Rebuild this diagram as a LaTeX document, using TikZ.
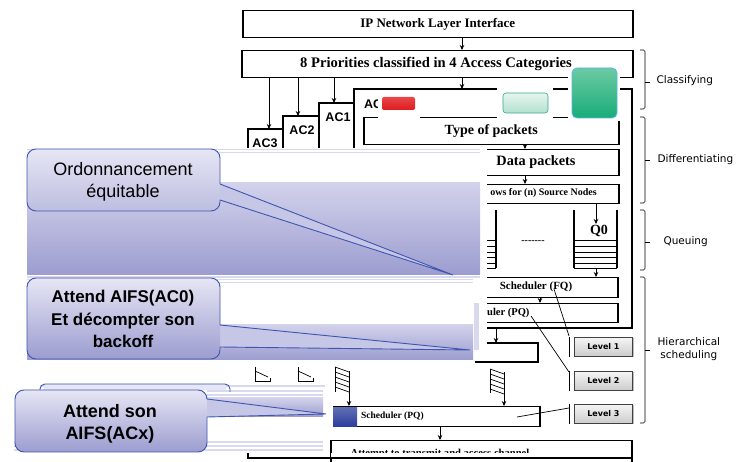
\documentclass[tikz,border=0pt]{standalone}
\usepackage{fontspec}
\setmainfont{Liberation Serif}
\newfontfamily\arialf{Liberation Sans}
\newfontfamily\verdf{DejaVu Sans}
\usetikzlibrary{arrows.meta}
\definecolor{bandlt}{HTML}{D8D8EF}
\definecolor{bandtop}{HTML}{D2D2EC}
\definecolor{bandbot}{HTML}{9C9CD0}
\definecolor{calltop}{HTML}{E6E6F5}
\definecolor{callbot}{HTML}{BDBDE0}
\definecolor{callpt}{HTML}{C6C6E6}
\definecolor{callline}{HTML}{3F56B0}
\definecolor{redbox}{HTML}{E01A1C}
\definecolor{tealtop}{HTML}{E6F5EF}
\definecolor{tealbot}{HTML}{B2E1D0}
\definecolor{tealline}{HTML}{3AA58A}
\definecolor{greentop}{HTML}{6CCBA3}
\definecolor{greenbot}{HTML}{18AC78}
\definecolor{greenline}{HTML}{5AB4E6}
\definecolor{navy}{HTML}{2A3C9C}
\begin{document}
\begin{tikzpicture}[x=1pt,y=-1pt,
  box/.style={draw,line width=1.5pt,inner sep=0pt,anchor=north west},
  ln/.style={line width=1.5pt},
  thn/.style={line width=0.7pt},
  arr/.style={-{Stealth[length=5pt,width=4.5pt]},line width=0.7pt},
  serb/.style={font=\bfseries\fontsize{#1}{#1}\selectfont},
  acl/.style={font=\arialf\bfseries\fontsize{12.5}{12.5}\selectfont},
  lvbox/.style={draw=black!75,line width=0.8pt,top color=gray!8,bottom color=gray!40,
    minimum width=58pt,minimum height=19pt,anchor=north west,inner sep=0pt,
    font=\verdf\bfseries\fontsize{8}{8}\selectfont},
  brc/.style={line width=0.6pt,rounded corners=1.5pt},
  brl/.style={anchor=west,font=\verdf\fontsize{10.5}{13}\selectfont,align=center},
  callln/.style={draw=callline,line width=0.9pt},
  stripe/.style={draw=bandlt,line width=1.2pt}
]
\useasboundingbox (0,0) rectangle (740,462);
\clip (0,0) rectangle (740,462);
\fill[white] (0,0) rectangle (740,462);

% ---- top boxes
\node[box,minimum width=390pt,minimum height=27pt,serb=13] (ip) at (242,10) {IP Network Layer Interface};
\node[box,minimum width=391pt,minimum height=27pt] (prio) at (241,50) {};
\node[serb=14.6,anchor=west,inner sep=0pt] (priot) at (300,63.5) {8 Priorities classified in 4 Access Categories};
\coordinate (ac0t) at (462,89);
\coordinate (ac1t) at (334,103);
\coordinate (ac2t) at (298,116);
\coordinate (ac3t) at (269,129);
\draw[arr] (ip.south -| ac0t) -- (prio.north -| ac0t);
\draw[arr] (prio.south -| ac0t) -- (ac0t);
\draw[arr] (prio.south -| ac1t) -- (ac1t);
\draw[arr] (prio.south -| ac2t) -- (ac2t);
\draw[arr] (prio.south -| ac3t) -- (ac3t);

% ---- AC boxes
\draw[ln] (248,148) -- (248,129) -- (283,129);
\draw[ln] (283,148) -- (283,116) -- (319,116);
\draw[ln] (319,148) -- (319,103) -- (354,103);
\draw[ln] (354,148) -- (354,89) -- (632,89) -- (632,328) -- (470,328);
\node[acl] (lac3) at (265,143) {AC3};
\node[acl] (lac2) at (302,130) {AC2};
\node[acl] (lac1) at (338,117) {AC1};
\node[acl,anchor=west,inner sep=0pt] (lac0) at (364,104) {AC0};

% ---- inside AC0
\node[box,minimum width=255pt,minimum height=27pt,serb=14] (type) at (363,117) {Type of packets};
\node[box,minimum width=156pt,minimum height=26pt] (data) at (462,149) {};
\node[serb=14.3] (datat) at (536,162) {Data packets};
\coordinate (c525) at (525,0);
\draw[arr] (type.south -| c525) -- (data.north -| c525);
\node[box,minimum width=156pt,minimum height=19pt] (src) at (462,184) {};
\node[serb=10,anchor=east,inner sep=0pt] (srct) at (597,193.5) {ows for (n) Source Nodes};
\draw[arr] (data.south -| c525) -- (src.north -| c525);

% queues
\draw[ln] (574,210) -- (574,268);
\draw[ln] (617,210) -- (617,268);
\foreach \yy in {240,246,252,257,263,268} \draw[thn] (574,\yy) -- (617,\yy);
\draw[ln] (496,210) -- (496,268);
\foreach \yy in {240,246,252,257,263,268} \draw[thn] (478,\yy) -- (496,\yy);
\node[serb=14] (q0) at (599,231) {Q0};
\coordinate (q0in) at (596,224);
\draw[arr] (src.south -| q0in) -- (q0in);
\node[font=\bfseries\fontsize{10}{10}\selectfont] (dots) at (533,242) {{-}{-}{-}{-}{-}{-}{-}};

\node[box,minimum width=155pt,minimum height=20pt] (fq) at (462,277) {};
\node[serb=11] (fqt) at (536,287) {Scheduler (FQ)};
\coordinate (qbot) at (596,268);
\draw[arr] (qbot) -- (fq.north -| qbot);
\node[box,minimum width=155pt,minimum height=19pt] (pq) at (462,303) {};
\node[serb=10.5,anchor=west,inner sep=0pt] (pqt) at (487,313) {uler (PQ)};
\coordinate (c540) at (540,0);
\draw[arr] (fq.south -| c540) -- (pq.north -| c540);

% ---- level 2 box
\draw[ln] (475,343) -- (538,343) -- (538,362) -- (475,362);
\coordinate (ac0b) at (496,328);
\coordinate (l2t) at (496,343);
\draw[arr] (ac0b) -- (l2t);

% ---- stacks
\draw[thn] (490,369) -- (490,393);
\draw[thn] (504,372) -- (504,398);
\foreach \k in {0,...,4} \draw[thn] (490,369+5*\k) -- (504,374+5*\k);
\draw[thn] (335,367) -- (335,392);
\draw[thn] (349,371) -- (349,398);
\foreach \k in {0,...,4} \draw[thn] (335,367+5*\k) -- (349,372+5*\k);
\draw[thn] (255,367) -- (255,381) -- (270,381) -- (270,378);
\draw[thn] (255,371) -- (268,377);
\draw[thn] (298,367) -- (298,381) -- (313,381) -- (313,378);
\draw[thn] (298,371) -- (311,377);

% ---- level 3 and attempt
\node[box,minimum width=206pt,minimum height=20pt] (l3) at (333,406) {};
\node[serb=9.5,anchor=west,inner sep=0pt] (l3t) at (361,416.5) {Scheduler (PQ)};
\coordinate (sA) at (504,398);
\coordinate (sB) at (349,398);
\draw[arr] (sA) -- (l3.north -| sA);
\draw[arr] (sB) -- (l3.north -| sB);
\node[box,minimum width=301pt,minimum height=30pt] (att) at (330,440) {};
\coordinate (c440) at (440,0);
\draw[arr] (l3.south -| c440) -- (att.north -| c440);
\begin{scope}
\clip (331,441) rectangle (630,453);
\node[serb=10.6] (attt) at (440,453.5) {Attempt to transmit and access channel};
\end{scope}
\fill[white] (331,453) rectangle (630,457);
\draw[ln] (248,449) -- (248,458) -- (631,458);

% ---- levels
\fill[gray!50] (575.5,338.5) rectangle (633.5,357.5);
\fill[gray!50] (575.5,372.5) rectangle (633.5,391.5);
\fill[gray!50] (575.5,405.5) rectangle (633.5,424.5);
\node[lvbox] (lv1) at (574,337) {Level 1};
\node[lvbox] (lv2) at (574,371) {Level 2};
\node[lvbox] (lv3) at (574,404) {Level 3};
\coordinate (k1) at (554,289);
\coordinate (b1) at (569,336);
\draw[thn] (k1) -- (b1);
\draw[thn] (b1 |- lv1.north) -- (b1 |- lv1.south);
\coordinate (k2) at (531,316);
\coordinate (b2) at (569,372);
\draw[thn] (k2) -- (b2);
\draw[thn] (b2 |- lv2.north) -- (b2 |- lv2.south);
\coordinate (k3) at (517,417);
\coordinate (b3) at (569,408);
\draw[thn] (k3) -- (b3);
\draw[thn] (b3 |- lv3.north) -- (b3 |- lv3.south);

% ---- braces
\draw[brc] (640,50) -- (645,50) -- (645,109) -- (640,109);
\draw[thn] (645,82) -- (650,82);
\node[brl] (bcls) at (653,81) {Classifying};
\draw[brc] (640,117) -- (645,117) -- (645,203) -- (640,203);
\draw[thn] (645,160) -- (650,160);
\node[brl] (bdif) at (654,160) {Differentiating};
\draw[brc] (640,210) -- (645,210) -- (645,270) -- (640,270);
\draw[thn] (645,242) -- (650,242);
\node[brl] (bque) at (660,242) {Queuing};
\draw[brc] (640,277) -- (645,277) -- (645,423) -- (640,423);
\draw[thn] (645,350) -- (650,350);
\node[brl] (bhie) at (654,349) {Hierarchical\\scheduling};

% ---- overlays
\fill[white] (473,145) rectangle (487,345);
\fill[white] (27,148) rectangle (480,183);
\draw[stripe] (27,149.5) -- (480,149.5);
\draw[stripe] (27,152.5) -- (480,152.5);
\shade[top color=bandtop,bottom color=bandbot] (27,183) rectangle (480,275);
\fill[white] (27,275) rectangle (473,360);
\draw[stripe] (27,277) -- (480,277);
\draw[stripe] (27,279.5) -- (473,279.5);
\draw[stripe] (27,282.5) -- (473,282.5);
\shade[top color=bandtop,bottom color=bandbot] (27,325) rectangle (473,360);
\fill[bandlt] (474,303) rectangle (479,350);

\fill[white] (14,383) rectangle (325,453);
\draw[stripe] (40,386) -- (325,386);
\draw[stripe] (207,391) -- (323,391);
\draw[stripe] (207,395) -- (323,395);
\shade[top color=bandtop,bottom color=bandbot] (207,398) rectangle (323,417);
\draw[stripe] (14,442) -- (323,442);
\draw[stripe] (14,446) -- (323,446);
\draw[stripe] (14,450) -- (323,450);

% callout 1
\fill[callpt] (220,184) -- (453,275) -- (220,200) -- cycle;
\shade[top color=calltop,bottom color=callbot,rounded corners=9pt] (27,149) rectangle (220,211);
\draw[callln,rounded corners=9pt] (220,200) -- (220,211) -- (27,211) -- (27,149) -- (220,149) -- (220,184);
\draw[callln] (220,184) -- (453,275) -- (220,200);
\node[font=\arialf\fontsize{18}{22}\selectfont,align=center] (c1) at (123,182) {Ordonnancement\\équitable};

% callout 2
\fill[callpt] (220,325) -- (470,350) -- (220,347) -- cycle;
\shade[top color=calltop,bottom color=bandbot,rounded corners=9pt] (27,278) rectangle (220,359);
\draw[callln,rounded corners=9pt] (220,347) -- (220,359) -- (27,359) -- (27,278) -- (220,278) -- (220,325);
\draw[callln] (220,325) -- (470,350) -- (220,347);
\node[font=\arialf\bfseries\fontsize{17}{22.5}\selectfont,align=center] (c2) at (123,319) {Attend AIFS(AC0)\\Et décompter son\\backoff};

% callout 3 (with the edge of one behind it)
\fill[calltop] (44,384) rectangle (226,390);
\draw[callln,rounded corners=5pt] (40,392) -- (40,384) -- (230,384) -- (230,392);
\fill[callpt] (207,399) -- (326,414) -- (207,417) -- cycle;
\shade[top color=calltop,bottom color=bandbot,rounded corners=9pt] (15,390) rectangle (207,452);
\draw[callln,rounded corners=9pt] (207,417) -- (207,452) -- (15,452) -- (15,390) -- (207,390) -- (207,399);
\draw[callln] (207,399) -- (326,414) -- (207,417);
\node[font=\arialf\bfseries\fontsize{18}{22}\selectfont,align=center] (c3) at (110,424) {Attend son\\AIFS(ACx)};

% ---- coloured marks
\fill[white] (378,94) rectangle (420,118);
\fill[white] (497,87) rectangle (553,118);
\fill[white] (568,67) rectangle (620,121);
\shade[top color=redbox!80,bottom color=redbox,rounded corners=2pt] (382,97) rectangle (415,110);
\shade[top color=tealtop,bottom color=tealbot,rounded corners=3pt,draw=tealline,line width=0.6pt] (503,93) rectangle (548,113);
\shade[top color=greentop,bottom color=greenbot,rounded corners=5pt,draw=greenline,line width=0.8pt] (572,68) rectangle (617,118);
\shade[top color=navy!75,bottom color=navy] (333,408) rectangle (357,427);
\end{tikzpicture}
\end{document}
